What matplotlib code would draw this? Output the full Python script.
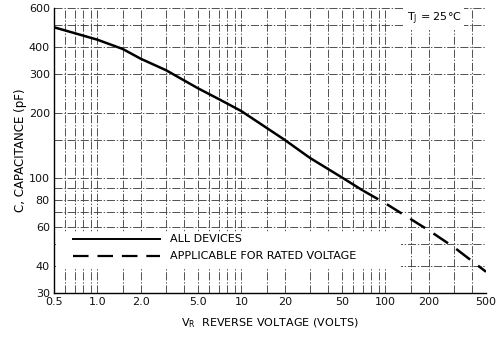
import matplotlib
matplotlib.use("Agg")
import matplotlib.pyplot as plt
from matplotlib.patches import Rectangle

# Data
v_solid = [0.5, 0.7, 1.0, 1.5, 2.0, 3.0, 5.0, 7.0, 10, 20, 30, 50, 70]
c_solid = [490, 460, 430, 390, 352, 312, 258, 230, 203, 150, 124, 101, 88]
v_dash = [70, 100, 200, 300, 500]
c_dash = [88, 77, 58, 48.5, 37.5]

x_ticks = [0.5, 1, 2, 5, 10, 20, 50, 100, 200, 500]
x_labels = ["0.5", "1.0", "2.0", "5.0", "10", "20", "50", "100", "200", "500"]
y_ticks = [30, 40, 60, 80, 100, 200, 300, 400, 600]
y_labels = ["30", "40", "60", "80", "100", "200", "300", "400", "600"]

x_grid = [0.6, 0.7, 0.8, 0.9, 1, 1.5, 2, 3, 4, 5, 6, 7, 8, 9, 10, 15, 20, 30, 40,
          50, 60, 70, 80, 90, 100, 150, 200, 300, 400, 500]
y_grid = [40, 50, 60, 70, 80, 90, 100, 150, 200, 300, 400, 500, 600]

plt.rcParams['font.family'] = ['DejaVu Sans']
fig = plt.figure(figsize=(4.98, 3.37), dpi=100)
ax = fig.add_axes([54/498, 1-293/337, (486-54)/498, (293-8)/337])
ax.set_xscale('log')
ax.set_yscale('log')
ax.set_xlim(0.5, 500)
ax.set_ylim(30, 600)

gstyle = dict(color='#444444', lw=0.65, ls=(0, (9, 2, 1.5, 2)), zorder=1)
for xv in x_grid:
    ax.axvline(xv, **gstyle)
for yv in y_grid:
    ax.axhline(yv, **gstyle)

ax.plot(v_solid, c_solid, color='black', lw=1.8, zorder=3, solid_capstyle='butt')
ax.plot(v_dash, c_dash, color='black', lw=1.8, ls=(0, (7, 4)), zorder=3)

ax.set_xticks(x_ticks)
ax.set_xticklabels(x_labels)
ax.set_yticks(y_ticks)
ax.set_yticklabels(y_labels)
ax.minorticks_off()
ax.tick_params(length=0, labelsize=8, pad=3, colors='#111111')
for s in ['top', 'right']:
    ax.spines[s].set_visible(False)
for s in ['left', 'bottom']:
    ax.spines[s].set_linewidth(1.0)

ax.set_xlabel("V$_\\mathregular{R}$  REVERSE VOLTAGE (VOLTS)", fontsize=8, labelpad=7)
ax.set_ylabel("C, CAPACITANCE (pF)", fontsize=8.5, labelpad=1)

# legend area (white block masking grid)
ax.add_patch(Rectangle((0.004, 0.085), 0.8, 0.13, transform=ax.transAxes,
                       facecolor='white', edgecolor='none', zorder=2))
ax.plot([0.045, 0.245], [0.19, 0.19], transform=ax.transAxes, color='black', lw=1.4, zorder=3)
ax.plot([0.045, 0.245], [0.13, 0.13], transform=ax.transAxes, color='black', lw=1.6,
        ls=(0, (7, 4)), zorder=3)
ax.text(0.268, 0.19, "ALL DEVICES", transform=ax.transAxes, fontsize=8,
        va='center', ha='left', zorder=4)
ax.text(0.268, 0.13, "APPLICABLE FOR RATED VOLTAGE", transform=ax.transAxes, fontsize=8,
        va='center', ha='left', zorder=4)

ax.text(0.88, 0.962, "T$_\\mathregular{J}$ = 25°C", transform=ax.transAxes, fontsize=8,
        va='center', ha='center', zorder=4,
        bbox=dict(facecolor='white', edgecolor='none', pad=2))

fig.savefig("out.png", dpi=100)
